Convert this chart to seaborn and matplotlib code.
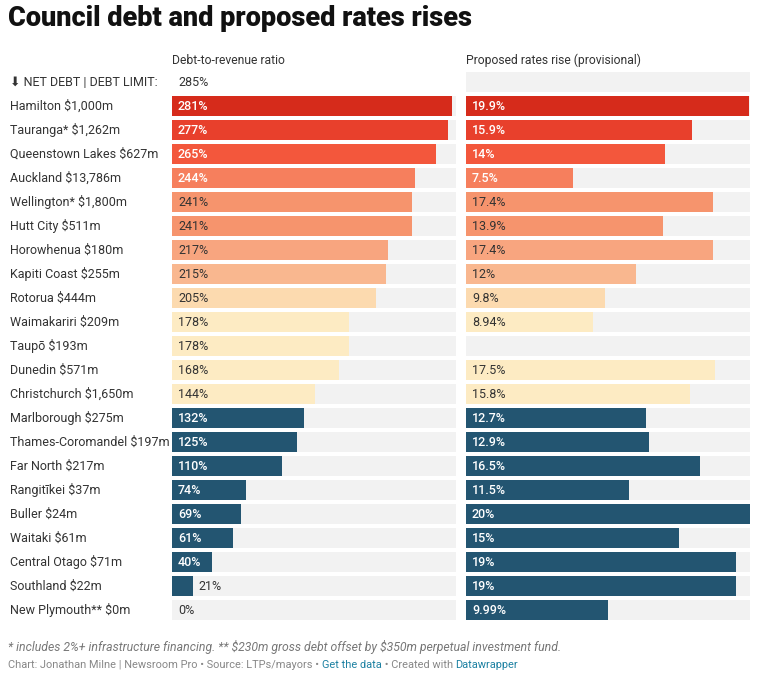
import numpy as np
import pandas as pd
import matplotlib
matplotlib.use('Agg')
import matplotlib.pyplot as plt
import seaborn as sns

councils = ["Hamilton $1,000m", "Tauranga* $1,262m", "Queenstown Lakes $627m",
            "Auckland $13,786m", "Wellington* $1,800m", "Hutt City $511m",
            "Horowhenua $180m", "Kapiti Coast $255m", "Rotorua $444m",
            "Waimakariri $209m", "Taupō $193m", "Dunedin $571m",
            "Christchurch $1,650m", "Marlborough $275m", "Thames-Coromandel $197m",
            "Far North $217m", "Rangitīkei $37m", "Buller $24m", "Waitaki $61m",
            "Central Otago $71m", "Southland $22m", "New Plymouth** $0m"]
debt_ratio = [281, 277, 265, 244, 241, 241, 217, 215, 205, 178, 178, 168, 144,
              132, 125, 110, 74, 69, 61, 40, 21, 0]
rates_rise = [19.9, 15.9, 14, 7.5, 17.4, 13.9, 17.4, 12, 9.8, 8.94, np.nan, 17.5,
              15.8, 12.7, 12.9, 16.5, 11.5, 20, 15, 19, 19, 9.99]
debt_limit = 285
rates_max = 20

header = "⬇ NET DEBT | DEBT LIMIT:"
dark_blue = "#235571"
bar_colors = ["#d62b1b", "#e8402c", "#f3573c", "#f67f5d", "#f6946d", "#f6946d",
              "#f8a57f", "#f9b78f", "#fcdaaf", "#fdebc3", "#fdebc3", "#fdebc3",
              "#fdebc3"] + [dark_blue] * 9
white_label = [True] * 4 + [False] * 9 + [True] * 9

df = pd.DataFrame({"council": councils, "debt": debt_ratio, "rates": rates_rise})
order = [header] + councils
palette = dict(zip(councils, bar_colors))
bg = "#f2f2f2"
txt = "#333333"

W, H = 757, 673
fig = plt.figure(figsize=(W / 100, H / 100), dpi=100)
plt.rcParams['font.family'] = ['Roboto', 'DejaVu Sans']


def px_axes(x0, x1, y0, y1):
    return fig.add_axes([x0 / W, 1 - y1 / H, (x1 - x0) / W, (y1 - y0) / H])


ax_l = px_axes(172, 456, 70, 622)
ax_r = px_axes(466, 750, 70, 622)
bar_h = 20 / 24

# background tracks
sns.barplot(data=df.assign(full=debt_limit), x="full", y="council", order=order,
            color=bg, width=bar_h, errorbar=None, ax=ax_l, orient="h")
bg_r = pd.DataFrame({"council": order, "full": rates_max})
sns.barplot(data=bg_r, x="full", y="council", order=order,
            color=bg, width=bar_h, errorbar=None, ax=ax_r, orient="h")

# value bars
sns.barplot(data=df, x="debt", y="council", order=order, hue="council",
            palette=palette, width=bar_h, errorbar=None, legend=False,
            ax=ax_l, orient="h", saturation=1)
sns.barplot(data=df.dropna(), x="rates", y="council", order=order, hue="council",
            palette=palette, width=bar_h, errorbar=None, legend=False,
            ax=ax_r, orient="h", saturation=1)

for ax, xmax in [(ax_l, debt_limit), (ax_r, rates_max)]:
    ax.set_xlim(0, xmax)
    ax.set_ylim(len(order) - 0.5, -0.5)
    ax.axis("off")


def value_label(ax, xmax, val, i, s, white):
    if val / xmax * 284 < 30:
        ax.annotate(s, xy=(val, i), xytext=(6, 0), textcoords="offset pixels",
                    va="center", ha="left", fontsize=9, color=txt)
    else:
        ax.annotate(s, xy=(0, i), xytext=(6, 0), textcoords="offset pixels",
                    va="center", ha="left", fontsize=9,
                    color="white" if white else txt,
                    fontweight="medium" if white else "normal")


ax_l.annotate(f"{debt_limit}%", xy=(0, 0), xytext=(6, 0), textcoords="offset pixels",
              va="center", ha="left", fontsize=9, color=txt)
for i, (d, r, w) in enumerate(zip(debt_ratio, rates_rise, white_label), start=1):
    value_label(ax_l, debt_limit, d, i, f"{d}%", w)
    if not np.isnan(r):
        value_label(ax_r, rates_max, r, i, f"{r:g}%", w)

# row labels
for i, name in enumerate(order):
    fig.text(10 / W, 1 - (82 + 24 * i) / H, name, fontsize=9, color=txt,
             va="center", ha="left")

fig.text(172 / W, 1 - 60 / H, "Debt-to-revenue ratio", fontsize=8.7, color=txt,
         va="center", ha="left")
fig.text(466 / W, 1 - 60 / H, "Proposed rates rise (provisional)", fontsize=8.7,
         color=txt, va="center", ha="left")

fig.text(8 / W, 1 - 18 / H, "Council debt and proposed rates rises", fontsize=19.5,
         fontweight="heavy", color="#111111", va="center", ha="left")

fig.text(8 / W, 1 - 647 / H,
         r"* includes 2%+ infrastructure financing. ** \$230m gross debt offset by "
         r"\$350m perpetual investment fund.",
         fontsize=8.8, style="italic", color="#777777", va="center", ha="left")

# credits line with links
pieces = [("Chart: Jonathan Milne | Newsroom Pro • Source: LTPs/mayors • ", "#888888"),
          ("Get the data", "#1d81a2"),
          (" • Created with ", "#888888"),
          ("Datawrapper", "#1d81a2")]
renderer = fig.canvas.get_renderer()
x = 8
for s, c in pieces:
    t = fig.text(x / W, 1 - 665 / H, s, fontsize=7.9, color=c, va="center", ha="left")
    x = t.get_window_extent(renderer).x1

fig.savefig("out.png", dpi=100)
